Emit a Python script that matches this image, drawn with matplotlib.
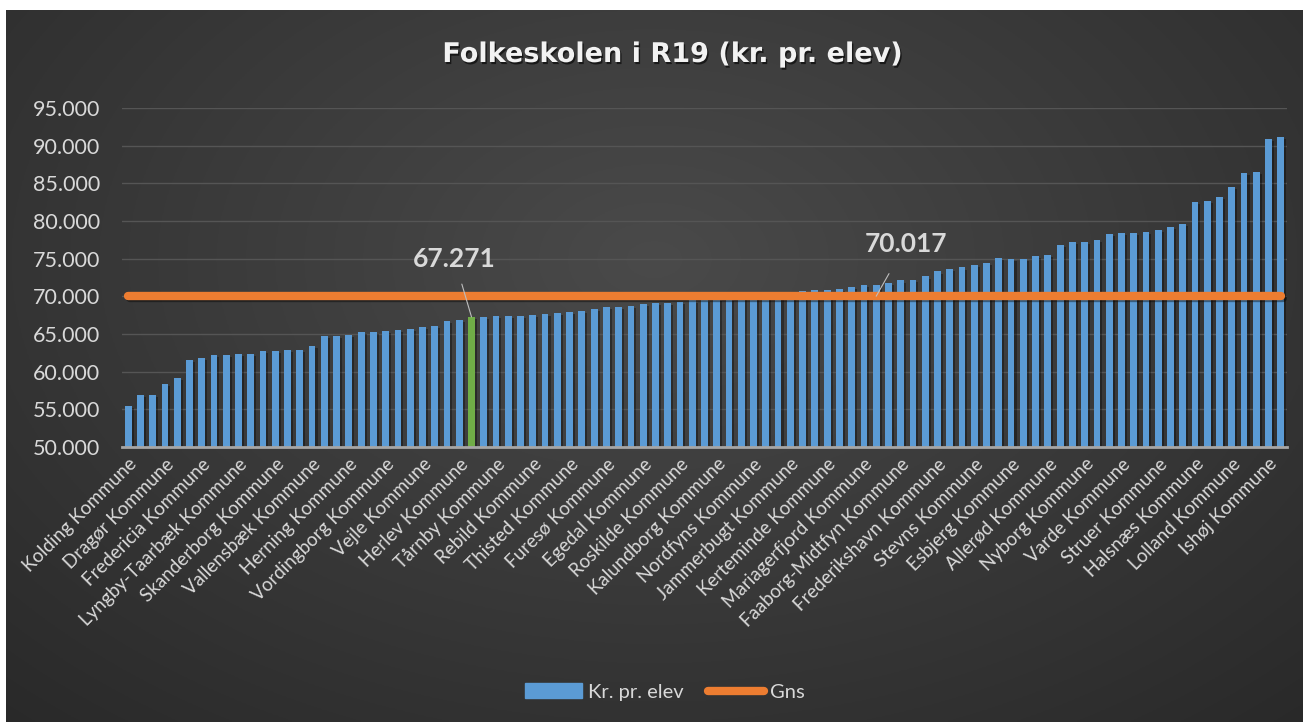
import numpy as np
import matplotlib
matplotlib.use("Agg")
import matplotlib.pyplot as plt
import matplotlib.patheffects as pe
from matplotlib.ticker import FuncFormatter, FixedLocator

# kr. pr. elev, sorted ascending (95 kommuner)
values = [
    55440, 56930, 56930, 58330, 59170, 61540, 61840, 62190, 62190, 62370,
    62370, 62720, 62720, 62850, 62850, 63380, 64740, 64740, 64910, 65220,
    65220, 65390, 65570, 65640, 65880, 66060, 66730, 66900, 67271, 67300,
    67390, 67420, 67450, 67570, 67600, 67740, 67920, 68100, 68270, 68580,
    68600, 68760, 68940, 69120, 69140, 69290, 69450, 69500, 69600, 69700,
    69800, 69900, 70050, 70250, 70640, 70660, 70820, 70840, 71000, 71280,
    71450, 71470, 71810, 72110, 72130, 72640, 73300, 73660, 73830, 74190,
    74460, 75120, 74990, 75000, 75340, 75520, 76850, 77210, 77230, 77520,
    78230, 78410, 78430, 78580, 78760, 79250, 79600, 82490, 82670, 83200,
    84530, 86400, 86570, 90830, 91190,
]
gns = 70017
highlight = 28  # bar shown in green (67.271)
gns_label_at = 61

# every third category is labelled on the axis
tick_labels = [
    "Kolding Kommune", "Dragør Kommune", "Fredericia Kommune",
    "Lyngby-Taarbæk Kommune", "Skanderborg Kommune", "Vallensbæk Kommune",
    "Herning Kommune", "Vordingborg Kommune", "Vejle Kommune",
    "Herlev Kommune", "Tårnby Kommune", "Rebild Kommune", "Thisted Kommune",
    "Furesø Kommune", "Egedal Kommune", "Roskilde Kommune",
    "Kalundborg Kommune", "Nordfyns Kommune", "Jammerbugt Kommune",
    "Kerteminde Kommune", "Mariagerfjord Kommune", "Faaborg-Midtfyn Kommune",
    "Frederikshavn Kommune", "Stevns Kommune", "Esbjerg Kommune",
    "Allerød Kommune", "Nyborg Kommune", "Varde Kommune", "Struer Kommune",
    "Halsnæs Kommune", "Lolland Kommune", "Ishøj Kommune",
]

plt.rcParams["font.family"] = ["Lato", "DejaVu Sans"]
txt = "#D9D9D9"
blue = "#5B9BD5"
green = "#70AD47"
orange = "#ED7D31"

fig = plt.figure(figsize=(13.06, 7.22), dpi=100, facecolor="white")

# dark gradient chart background
bg = fig.add_axes([6 / 1306, 0, 1297 / 1306, 712 / 722])
yy, xx = np.mgrid[0:1:300j, 0:1:500j]
r = np.sqrt(((xx - 0.5) / 0.75) ** 2 + ((yy - 0.35) / 0.9) ** 2)
shade = 0.29 - 0.13 * np.clip(r, 0, 1)
bg.imshow(np.dstack([shade] * 3), aspect="auto", extent=[0, 1, 0, 1])
bg.set_axis_off()

ax = fig.add_axes([122 / 1306, 1 - 447 / 722, 1165 / 1306, 339 / 722])
ax.patch.set_alpha(0)

x = np.arange(len(values))
colors = [green if i == highlight else blue for i in x]
ax.bar(x, values, width=0.55, color=colors, zorder=2,
       path_effects=[pe.withSimplePatchShadow(offset=(1.5, -1.5), shadow_rgbFace="black", alpha=0.35)])
ax.plot(x, [gns] * len(x), color=orange, lw=6, solid_capstyle="round", zorder=3,
        path_effects=[pe.SimpleLineShadow(offset=(1.5, -1.5), shadow_color="black", alpha=0.4), pe.Normal()])

ax.set_xlim(-0.5, len(values) - 0.5)
ax.set_ylim(50000, 95000)
ax.set_yticks(np.arange(50000, 95001, 5000))
ax.yaxis.set_major_formatter(FuncFormatter(lambda v, p: f"{int(v):,}".replace(",", ".")))
ax.grid(axis="y", color="#555555", lw=1, zorder=0)
ax.set_axisbelow(True)
for s in ["top", "right", "left"]:
    ax.spines[s].set_visible(False)
ax.spines["bottom"].set_color("#A6A6A6")
ax.spines["bottom"].set_linewidth(2)
ax.spines["bottom"].set_zorder(4)

ax.xaxis.set_major_locator(FixedLocator(range(0, len(values), 3)))
ax.set_xticklabels(tick_labels, rotation=45, ha="right", va="top",
                   rotation_mode="anchor", fontsize=13.5, color=txt)
ax.tick_params(axis="x", length=0, pad=6)
ax.tick_params(axis="y", length=0, pad=16, labelsize=15.5, labelcolor=txt)

# data labels with leader lines
ax.annotate(f"{values[highlight]:,}".replace(",", "."), xy=(highlight, values[highlight]),
            xytext=(highlight - 1.4, 75000), ha="center", va="center",
            fontsize=19, fontweight="bold", color=txt,
            arrowprops=dict(arrowstyle="-", color="#BFBFBF", lw=0.8, shrinkA=8, shrinkB=0))
ax.annotate(f"{gns:,}".replace(",", "."), xy=(gns_label_at, gns),
            xytext=(gns_label_at + 2.4, 76900), ha="center", va="center",
            fontsize=19, fontweight="bold", color=txt,
            arrowprops=dict(arrowstyle="-", color="#BFBFBF", lw=0.8, shrinkA=12, shrinkB=0))

fig.text(0.515, 1 - 55 / 722, "Folkeskolen i R19 (kr. pr. elev)", ha="center", va="center",
         fontsize=19.5, fontweight="bold", color="#F2F2F2", family="DejaVu Sans",
         path_effects=[pe.withSimplePatchShadow(offset=(1, -1.5), shadow_rgbFace="black", alpha=0.6)])

leg_handles = [
    plt.Rectangle((0, 0), 1, 1, color=blue),
    plt.Line2D([0], [0], color=orange, lw=6, solid_capstyle="round"),
]
fig.legend(leg_handles, ["Kr. pr. elev", "Gns"], loc="center",
           bbox_to_anchor=(665 / 1306, 1 - 692 / 722), ncol=2, frameon=False,
           fontsize=14.5, labelcolor=txt, handlelength=2.8, handletextpad=0.3,
           columnspacing=1.2)

fig.savefig("out.png", dpi=100, facecolor="white")
